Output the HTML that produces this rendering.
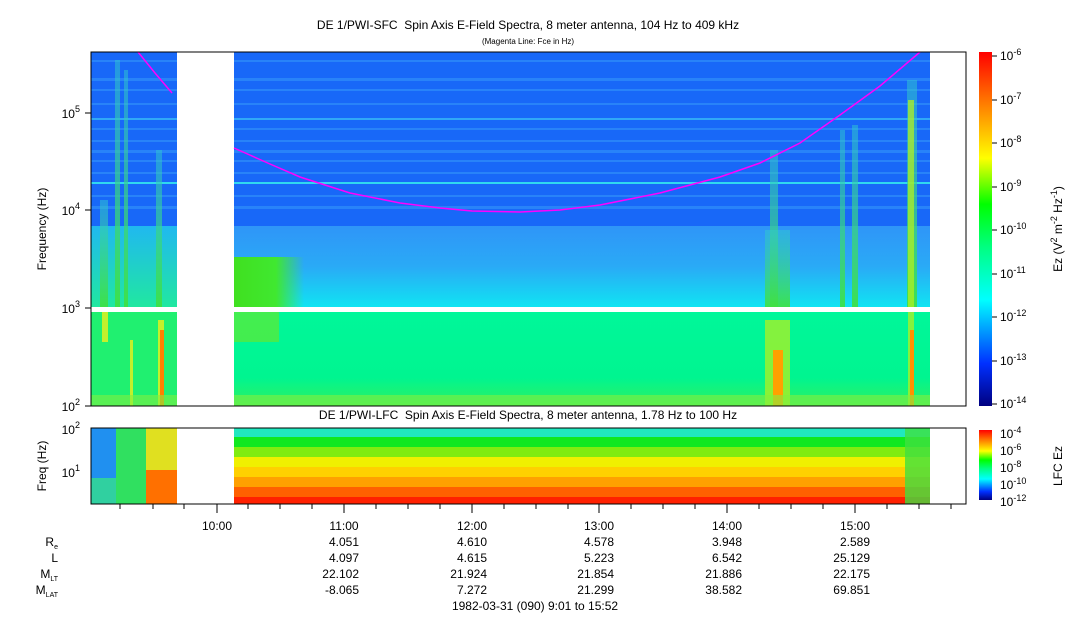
<!DOCTYPE html>
<html><head><meta charset="utf-8"><style>
body{margin:0;background:#fff;}
svg{display:block;font-family:"Liberation Sans",Arial,sans-serif;}
</style></head><body>
<svg width="1083" height="620" viewBox="0 0 1083 620" xmlns="http://www.w3.org/2000/svg">
<defs>
<linearGradient id="mid" x1="0" y1="0" x2="0" y2="1">
<stop offset="0" stop-color="#2f95f8"/><stop offset="0.5" stop-color="#2aaaf6"/><stop offset="1" stop-color="#10e4f2"/></linearGradient>
<linearGradient id="low" x1="0" y1="0" x2="0" y2="1">
<stop offset="0" stop-color="#00f79a"/><stop offset="0.7" stop-color="#00f590"/><stop offset="1" stop-color="#30f060"/></linearGradient>
<linearGradient id="leftmid" x1="0" y1="0" x2="0" y2="1">
<stop offset="0" stop-color="#20b8f0"/><stop offset="1" stop-color="#20e8a0"/></linearGradient>
<linearGradient id="cb" x1="0" y1="1" x2="0" y2="0">
<stop offset="0" stop-color="#00007f"/><stop offset="0.12" stop-color="#0030ff"/><stop offset="0.3" stop-color="#00ffff"/><stop offset="0.45" stop-color="#00ff80"/><stop offset="0.57" stop-color="#00ff00"/><stop offset="0.7" stop-color="#ffff00"/><stop offset="0.85" stop-color="#ff8000"/><stop offset="1" stop-color="#ff0000"/></linearGradient>
<linearGradient id="hump" x1="0" y1="0" x2="1" y2="0">
<stop offset="0" stop-color="#40e020"/><stop offset="0.6" stop-color="#40e830"/><stop offset="1" stop-color="#40e830" stop-opacity="0"/></linearGradient>
<linearGradient id="burst" x1="0" y1="0" x2="0" y2="1">
<stop offset="0" stop-color="#30c8d0" stop-opacity="0.5"/><stop offset="1" stop-color="#40e040" stop-opacity="0.9"/></linearGradient>
</defs>

<text x="528" y="29" font-size="12" text-anchor="middle">DE 1/PWI-SFC&#160; Spin Axis E-Field Spectra, 8 meter antenna, 104 Hz to 409 kHz</text>
<text x="528" y="44" font-size="8" text-anchor="middle">(Magenta Line: Fce in Hz)</text>

<rect x="91" y="52" width="839" height="174" fill="#1868f8"/>
<g fill="#2a86fa" opacity="0.9">
<rect x="91" y="78" width="839" height="3"/><rect x="91" y="89" width="839" height="2"/><rect x="91" y="103" width="839" height="2"/>
<rect x="91" y="128" width="839" height="2"/><rect x="91" y="150" width="839" height="3"/>
<rect x="91" y="160" width="839" height="2"/><rect x="91" y="195" width="839" height="2"/><rect x="91" y="206" width="839" height="3"/>
<rect x="91" y="60" width="839" height="2"/><rect x="91" y="140" width="839" height="2"/><rect x="91" y="172" width="839" height="2"/>
</g>
<rect x="91" y="182" width="839" height="2" fill="#30d8f0"/>
<rect x="91" y="118" width="839" height="2" fill="#30a8f8"/>
<rect x="91" y="226" width="839" height="81" fill="url(#mid)"/>
<rect x="91" y="312" width="839" height="94" fill="url(#low)"/>
<rect x="91" y="226" width="86" height="81" fill="url(#leftmid)"/>
<rect x="91" y="312" width="86" height="94" fill="#20f070"/>
<g fill="url(#burst)">
<rect x="100" y="200" width="8" height="107"/><rect x="115" y="60" width="5" height="247"/><rect x="124" y="70" width="4" height="237"/><rect x="156" y="150" width="6" height="157"/>
<rect x="770" y="150" width="8" height="157"/><rect x="840" y="130" width="5" height="177"/><rect x="852" y="125" width="6" height="182"/>
<rect x="907" y="80" width="10" height="227"/><rect x="765" y="230" width="25" height="77"/>
</g>
<g fill="#e0f020" opacity="0.85"><rect x="102" y="312" width="6" height="30"/><rect x="158" y="320" width="6" height="86"/><rect x="130" y="340" width="3" height="66"/></g>
<rect x="160" y="330" width="4" height="76" fill="#ff8000"/>
<rect x="234" y="257" width="70" height="50" fill="url(#hump)"/>
<rect x="234" y="312" width="45" height="30" fill="#60ea30" opacity="0.7"/>
<g fill="#b0f020" opacity="0.75"><rect x="908" y="100" width="6" height="306"/><rect x="765" y="320" width="25" height="86"/></g>
<rect x="773" y="350" width="10" height="56" fill="#ffa000"/>
<rect x="910" y="330" width="4" height="76" fill="#ff9000"/>
<rect x="91" y="395" width="839" height="11" fill="#80f040" opacity="0.6"/>
<rect x="177" y="52" width="57" height="354" fill="#fff"/>
<rect x="91" y="307" width="839" height="5" fill="#fff"/>
<polyline fill="none" stroke="#ff00ff" stroke-width="1.5" points="138,52 155,73 172,93"/>
<polyline fill="none" stroke="#ff00ff" stroke-width="1.5" points="234,148 270,164 300,177 350,193 400,203 440,208 472,211 520,212 560,210 600,205 660,193 720,177 760,163 800,143 840,115 880,86 920,52"/>
<rect x="91" y="52" width="875" height="354" fill="none" stroke="#000" stroke-width="1"/>
<g font-size="12" text-anchor="end">
<text x="80" y="118">10<tspan font-size="9" dy="-6">5</tspan></text>
<text x="80" y="215">10<tspan font-size="9" dy="-6">4</tspan></text>
<text x="80" y="313">10<tspan font-size="9" dy="-6">3</tspan></text>
<text x="80" y="411">10<tspan font-size="9" dy="-6">2</tspan></text>
</g>
<g stroke="#000"><line x1="85" y1="113" x2="91" y2="113"/><line x1="85" y1="210" x2="91" y2="210"/><line x1="85" y1="308" x2="91" y2="308"/><line x1="85" y1="406" x2="91" y2="406"/></g>
<text transform="translate(46,229) rotate(-90)" font-size="12" text-anchor="middle">Frequency (Hz)</text>

<rect x="979" y="52" width="13" height="354" fill="url(#cb)"/>
<g stroke="#000"><line x1="992" y1="56" x2="997" y2="56"/><line x1="992" y1="100" x2="997" y2="100"/><line x1="992" y1="143" x2="997" y2="143"/><line x1="992" y1="187" x2="997" y2="187"/><line x1="992" y1="230" x2="997" y2="230"/><line x1="992" y1="274" x2="997" y2="274"/><line x1="992" y1="317" x2="997" y2="317"/><line x1="992" y1="361" x2="997" y2="361"/><line x1="992" y1="404" x2="997" y2="404"/></g>
<g font-size="12">
<text x="1000" y="60">10<tspan font-size="9" dy="-5">-6</tspan></text>
<text x="1000" y="104">10<tspan font-size="9" dy="-5">-7</tspan></text>
<text x="1000" y="147">10<tspan font-size="9" dy="-5">-8</tspan></text>
<text x="1000" y="191">10<tspan font-size="9" dy="-5">-9</tspan></text>
<text x="1000" y="234">10<tspan font-size="9" dy="-5">-10</tspan></text>
<text x="1000" y="278">10<tspan font-size="9" dy="-5">-11</tspan></text>
<text x="1000" y="321">10<tspan font-size="9" dy="-5">-12</tspan></text>
<text x="1000" y="365">10<tspan font-size="9" dy="-5">-13</tspan></text>
<text x="1000" y="408">10<tspan font-size="9" dy="-5">-14</tspan></text>
</g>
<text transform="translate(1062,229) rotate(-90)" font-size="12" text-anchor="middle">Ez (V<tspan font-size="9" dy="-5">2</tspan><tspan dy="5"> m</tspan><tspan font-size="9" dy="-5">-2</tspan><tspan dy="5"> Hz</tspan><tspan font-size="9" dy="-5">-1</tspan><tspan dy="5">)</tspan></text>

<text x="528" y="419" font-size="12" text-anchor="middle">DE 1/PWI-LFC&#160; Spin Axis E-Field Spectra, 8 meter antenna, 1.78 Hz to 100 Hz</text>
<rect x="91" y="428" width="86" height="76" fill="#30d0a0"/>
<rect x="91" y="428" width="25" height="50" fill="#2090f0"/>
<rect x="116" y="428" width="30" height="76" fill="#30e060"/>
<rect x="146" y="428" width="31" height="76" fill="#e0e020"/>
<rect x="146" y="470" width="31" height="34" fill="#ff7000"/>
<rect x="234" y="428" width="696" height="9" fill="#20e8c0"/>
<rect x="234" y="437" width="696" height="10" fill="#10e820"/>
<rect x="234" y="447" width="696" height="10" fill="#80ec10"/>
<rect x="234" y="457" width="696" height="10" fill="#f0f000"/>
<rect x="234" y="467" width="696" height="10" fill="#ffd000"/>
<rect x="234" y="477" width="696" height="10" fill="#ffa000"/>
<rect x="234" y="487" width="696" height="10" fill="#ff6000"/>
<rect x="234" y="497" width="696" height="7" fill="#ff2000"/>
<rect x="905" y="428" width="25" height="76" fill="#40e040" opacity="0.8"/>
<rect x="91" y="428" width="875" height="76" fill="none" stroke="#000"/>
<g font-size="12" text-anchor="end">
<text x="80" y="434">10<tspan font-size="9" dy="-6">2</tspan></text>
<text x="80" y="477">10<tspan font-size="9" dy="-6">1</tspan></text>
</g>
<text transform="translate(46,466) rotate(-90)" font-size="12" text-anchor="middle">Freq (Hz)</text>
<rect x="979" y="430" width="13" height="70" fill="url(#cb)"/>
<g font-size="12">
<text x="1000" y="438">10<tspan font-size="9" dy="-5">-4</tspan></text>
<text x="1000" y="455">10<tspan font-size="9" dy="-5">-6</tspan></text>
<text x="1000" y="472">10<tspan font-size="9" dy="-5">-8</tspan></text>
<text x="1000" y="489">10<tspan font-size="9" dy="-5">-10</tspan></text>
<text x="1000" y="506">10<tspan font-size="9" dy="-5">-12</tspan></text>
</g>
<text transform="translate(1062,466) rotate(-90)" font-size="12" text-anchor="middle">LFC Ez</text>

<g stroke="#000">
<line x1="120" y1="504" x2="120" y2="509"/><line x1="153" y1="504" x2="153" y2="509"/><line x1="184" y1="504" x2="184" y2="509"/>
<line x1="217" y1="504" x2="217" y2="513"/><line x1="248" y1="504" x2="248" y2="509"/><line x1="280" y1="504" x2="280" y2="509"/><line x1="312" y1="504" x2="312" y2="509"/>
<line x1="344" y1="504" x2="344" y2="513"/><line x1="376" y1="504" x2="376" y2="509"/><line x1="408" y1="504" x2="408" y2="509"/><line x1="440" y1="504" x2="440" y2="509"/>
<line x1="472" y1="504" x2="472" y2="513"/><line x1="504" y1="504" x2="504" y2="509"/><line x1="536" y1="504" x2="536" y2="509"/><line x1="568" y1="504" x2="568" y2="509"/>
<line x1="599" y1="504" x2="599" y2="513"/><line x1="631" y1="504" x2="631" y2="509"/><line x1="663" y1="504" x2="663" y2="509"/><line x1="695" y1="504" x2="695" y2="509"/>
<line x1="727" y1="504" x2="727" y2="513"/><line x1="759" y1="504" x2="759" y2="509"/><line x1="791" y1="504" x2="791" y2="509"/><line x1="823" y1="504" x2="823" y2="509"/>
<line x1="855" y1="504" x2="855" y2="513"/><line x1="887" y1="504" x2="887" y2="509"/><line x1="919" y1="504" x2="919" y2="509"/><line x1="951" y1="504" x2="951" y2="509"/>
</g>
<g font-size="12" text-anchor="middle">
<text x="217" y="530">10:00</text><text x="344" y="530">11:00</text><text x="472" y="530">12:00</text><text x="599" y="530">13:00</text><text x="727" y="530">14:00</text><text x="855" y="530">15:00</text>
</g>
<g font-size="12" text-anchor="end">
<text x="58" y="546">R<tspan font-size="7" dy="3">e</tspan></text>
<text x="58" y="562">L</text>
<text x="58" y="578">M<tspan font-size="7" dy="3">LT</tspan></text>
<text x="58" y="594">M<tspan font-size="7" dy="3">LAT</tspan></text>
<text x="359" y="546">4.051</text><text x="487" y="546">4.610</text><text x="614" y="546">4.578</text><text x="742" y="546">3.948</text><text x="870" y="546">2.589</text>
<text x="359" y="562">4.097</text><text x="487" y="562">4.615</text><text x="614" y="562">5.223</text><text x="742" y="562">6.542</text><text x="870" y="562">25.129</text>
<text x="359" y="578">22.102</text><text x="487" y="578">21.924</text><text x="614" y="578">21.854</text><text x="742" y="578">21.886</text><text x="870" y="578">22.175</text>
<text x="359" y="594">-8.065</text><text x="487" y="594">7.272</text><text x="614" y="594">21.299</text><text x="742" y="594">38.582</text><text x="870" y="594">69.851</text>
</g>
<text x="535" y="610" font-size="12" text-anchor="middle">1982-03-31 (090) 9:01 to 15:52</text>
</svg>
</body></html>
